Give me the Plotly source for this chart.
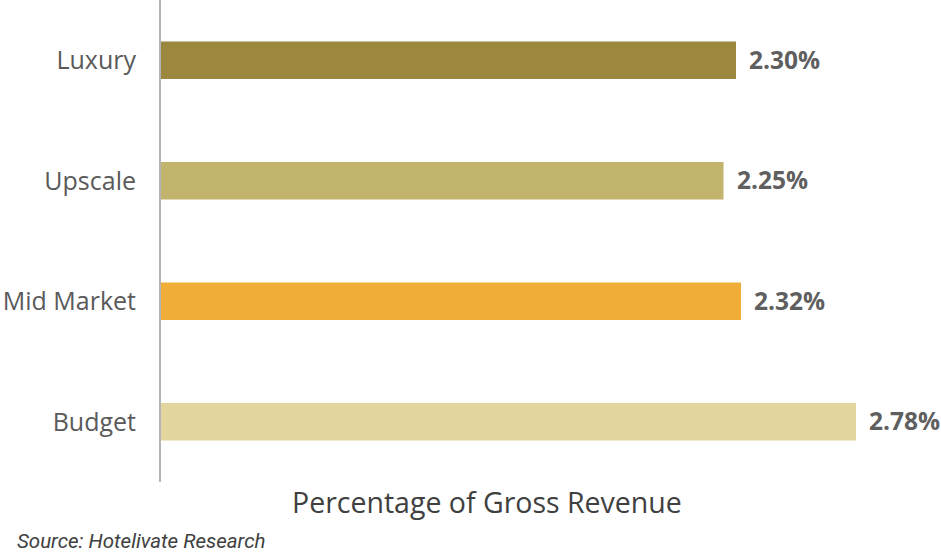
import plotly.graph_objects as go

categories = ["Luxury", "Upscale", "Mid Market", "Budget"]
values = [2.30, 2.25, 2.32, 2.78]
value_labels = ["2.30%", "2.25%", "2.32%", "2.78%"]
colors = ["#9C873E", "#C3B46D", "#F0AD37", "#E2D59E"]

W, H = 941, 553
pl, pb, pt, pr = 161, 71, 0, 0
pw, ph = W - pl - pr, H - pb - pt

fig = go.Figure()
fig.add_trace(go.Bar(
    y=categories, x=values, orientation="h",
    marker=dict(color=colors, line=dict(width=0)),
    hoverinfo="skip",
))

for c, v, t in zip(categories, values, value_labels):
    fig.add_annotation(x=v, y=c, text=t, showarrow=False, xanchor="left",
                       xshift=11, yshift=1,
                       font=dict(family="Open Sans", size=24.5, color="#5F5F5F", weight="bold"))

fig.add_annotation(x=(487 - pl) / pw, y=(H - 502 - pb) / ph, xref="paper", yref="paper",
                   xanchor="center", yanchor="middle",
                   text="Percentage of Gross Revenue", showarrow=False,
                   font=dict(family="Open Sans", size=28.5, color="#404040"))
fig.add_annotation(text="<i>Source: Hotelivate Research</i>", showarrow=False,
                   xref="paper", yref="paper",
                   x=(15 - pl) / pw, y=(H - 541 - pb) / ph, xanchor="left", yanchor="middle",
                   font=dict(family="Roboto", size=20.5, color="#404040"))

fig.update_layout(
    width=W, height=H,
    margin=dict(l=pl, r=pr, t=pt, b=pb, autoexpand=False),
    paper_bgcolor="white", plot_bgcolor="white",
    bargap=0.69,
    showlegend=False,
    xaxis=dict(range=[0, 3.12], visible=False),
    yaxis=dict(categoryorder="array", categoryarray=categories, autorange="reversed",
               showline=True, linecolor="#B4B4B8", linewidth=2,
               ticks="outside", ticklen=18, tickcolor="rgba(0,0,0,0)",
               tickfont=dict(family="Open Sans", size=25, color="#5A5A5A"),
               showgrid=False, zeroline=False),
)

fig.write_html("out.html", config={"displayModeBar": False},
               post_script="document.body.style.margin='0px';document.body.style.overflow='hidden';")
